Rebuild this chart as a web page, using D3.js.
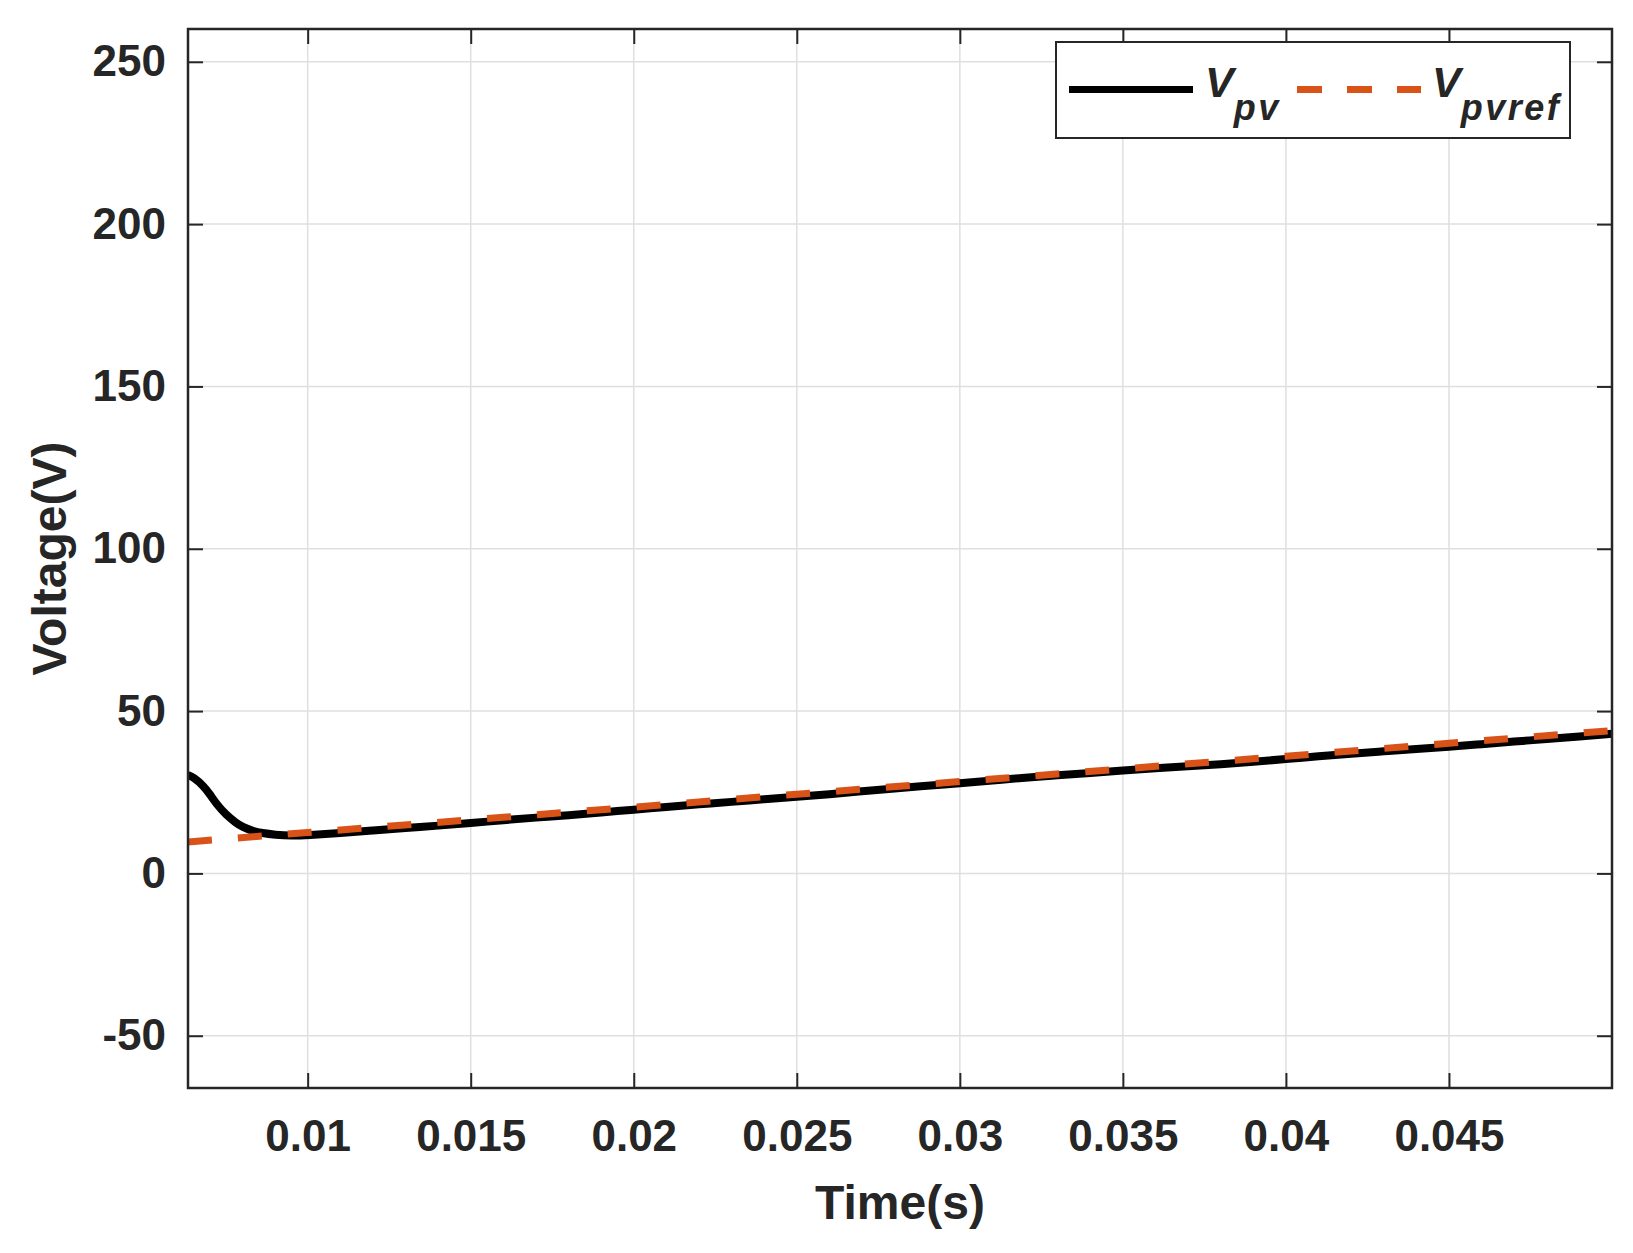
<!DOCTYPE html>
<html><head><meta charset="utf-8">
<script src="https://cdn.jsdelivr.net/npm/d3@7"></script>
<style>body{margin:0;background:#fff}svg{display:block}text{font-family:"Liberation Sans",Arial,sans-serif;font-weight:bold;fill:#262626}</style>
</head><body>
<script>
const xTicks = [0.01,0.015,0.02,0.025,0.03,0.035,0.04,0.045];
const xTickLabels = ["0.01","0.015","0.02","0.025","0.03","0.035","0.04","0.045"];
const yTicks = [-50,0,50,100,150,200,250];
const yTickLabels = ["-50","0","50","100","150","200","250"];
const vpvTime = [0.00633,0.0065,0.0068,0.007,0.0072,0.0075,0.0078,0.008,0.0083,0.0086,0.009,0.0095,0.010,0.011,0.012,0.013,0.014,0.015,0.016,0.017,0.018,0.019,0.020,0.021,0.022,0.023,0.024,0.025,0.026,0.027,0.028,0.029,0.030,0.031,0.032,0.033,0.034,0.035,0.036,0.037,0.038,0.039,0.040,0.041,0.042,0.043,0.044,0.045,0.046,0.047,0.048,0.049,0.050];
const vpvValues = [30.3,29.6,27.0,24.4,21.4,18.0,15.6,14.3,13.1,12.4,11.9,11.6,11.8,12.4,13.2,14.0,14.7,15.5,16.4,17.2,17.9,18.8,19.6,20.5,21.3,22.0,22.9,23.6,24.4,25.3,26.2,27.0,27.8,28.6,29.5,30.2,30.9,31.7,32.4,33.0,33.6,34.4,35.2,36.1,36.9,37.6,38.3,39.0,39.8,40.6,41.4,42.2,43.0];
const refTime = [0.00633,0.01,0.015,0.02,0.025,0.03,0.035,0.04,0.045,0.05];
const refValues = [9.7,12.6,16.5,20.4,24.4,28.3,32.2,36.1,40.1,44.0];
const seriesNames = ["pv","pvref"];
const xLabel = "Time(s)", yLabel = "Voltage(V)";

const W=1633,H=1253;
const L=188,R=1612,T=29,B=1088;
const svg=d3.select("body").append("svg").attr("width",W).attr("height",H);
const x=d3.scaleLinear().domain([0.00633,0.05]).range([L,R]);
const y=d3.scaleLinear().domain([-66.1,260.1]).range([B,T]);

// grid
const grid=svg.append("g").attr("stroke","#dfdfdf").attr("stroke-width",1.5);
xTicks.forEach(t=>grid.append("line").attr("x1",x(t)).attr("x2",x(t)).attr("y1",T).attr("y2",B));
yTicks.forEach(t=>grid.append("line").attr("x1",L).attr("x2",R).attr("y1",y(t)).attr("y2",y(t)));

// axes
const xb=d3.axisBottom(x).tickValues(xTicks).tickFormat((d,i)=>xTickLabels[i]).tickSizeInner(-15).tickSizeOuter(0).tickPadding(32);
const yl=d3.axisLeft(y).tickValues(yTicks).tickFormat((d,i)=>yTickLabels[i]).tickSizeInner(-15).tickSizeOuter(0).tickPadding(22);
const xt=d3.axisTop(x).tickValues(xTicks).tickFormat("").tickSizeInner(-15).tickSizeOuter(0);
const yr=d3.axisRight(y).tickValues(yTicks).tickFormat("").tickSizeInner(-15).tickSizeOuter(0);
function style(g){g.select(".domain").remove();g.selectAll("line").attr("stroke","#262626").attr("stroke-width",2);g.selectAll("text").attr("font-size",44).attr("font-family","'Liberation Sans',Arial,sans-serif").attr("font-weight","bold").attr("fill","#262626");}
svg.append("g").attr("transform",`translate(0,${B})`).call(xb).call(style);
svg.append("g").attr("transform",`translate(${L},0)`).call(yl).call(style);
svg.append("g").attr("transform",`translate(0,${T})`).call(xt).call(style);
svg.append("g").attr("transform",`translate(${R},0)`).call(yr).call(style);

// clip
svg.append("clipPath").attr("id","c").append("rect").attr("x",L).attr("y",T).attr("width",R-L).attr("height",B-T);
svg.append("path").attr("clip-path","url(#c)").datum(vpvTime.map((t,i)=>[t,vpvValues[i]]))
  .attr("d",d3.line().x(d=>x(d[0])).y(d=>y(d[1])).curve(d3.curveBasis)).attr("fill","none").attr("stroke","#000").attr("stroke-width",8).attr("stroke-linejoin","round");
svg.append("path").attr("clip-path","url(#c)").datum(refTime.map((t,i)=>[t,refValues[i]]))
  .attr("d",d3.line().x(d=>x(d[0])).y(d=>y(d[1]))).attr("fill","none").attr("stroke","#D95319").attr("stroke-width",7).attr("stroke-dasharray","24,26");

// box
svg.append("rect").attr("x",L).attr("y",T).attr("width",R-L).attr("height",B-T).attr("fill","none").attr("stroke","#262626").attr("stroke-width",2.5);

// titles
svg.append("text").attr("x",(L+R)/2).attr("y",1219).attr("text-anchor","middle").attr("font-size",48).text(xLabel);
svg.append("text").attr("transform",`translate(66,${(T+B)/2}) rotate(-90)`).attr("text-anchor","middle").attr("font-size",48).text(yLabel);

// legend
const lg=svg.append("g");
lg.append("rect").attr("x",1056).attr("y",42).attr("width",514).attr("height",96).attr("fill","#fff").attr("stroke","#262626").attr("stroke-width",2);
lg.append("line").attr("x1",1069).attr("x2",1193).attr("y1",89.5).attr("y2",89.5).attr("stroke","#000").attr("stroke-width",7);
lg.append("line").attr("x1",1297).attr("x2",1421).attr("y1",89.5).attr("y2",89.5).attr("stroke","#D95319").attr("stroke-width",7).attr("stroke-dasharray","25,25");
function legText(xp,sub){
  const t=lg.append("text").attr("x",xp).attr("y",97).attr("font-style","italic").attr("font-size",43);
  t.append("tspan").text("V");
  t.append("tspan").attr("font-size",36).attr("dx",0).attr("dy",23).attr("letter-spacing",2.5).text(sub);
}
legText(1205,seriesNames[0]);
legText(1432,seriesNames[1]);
</script>
</body></html>
